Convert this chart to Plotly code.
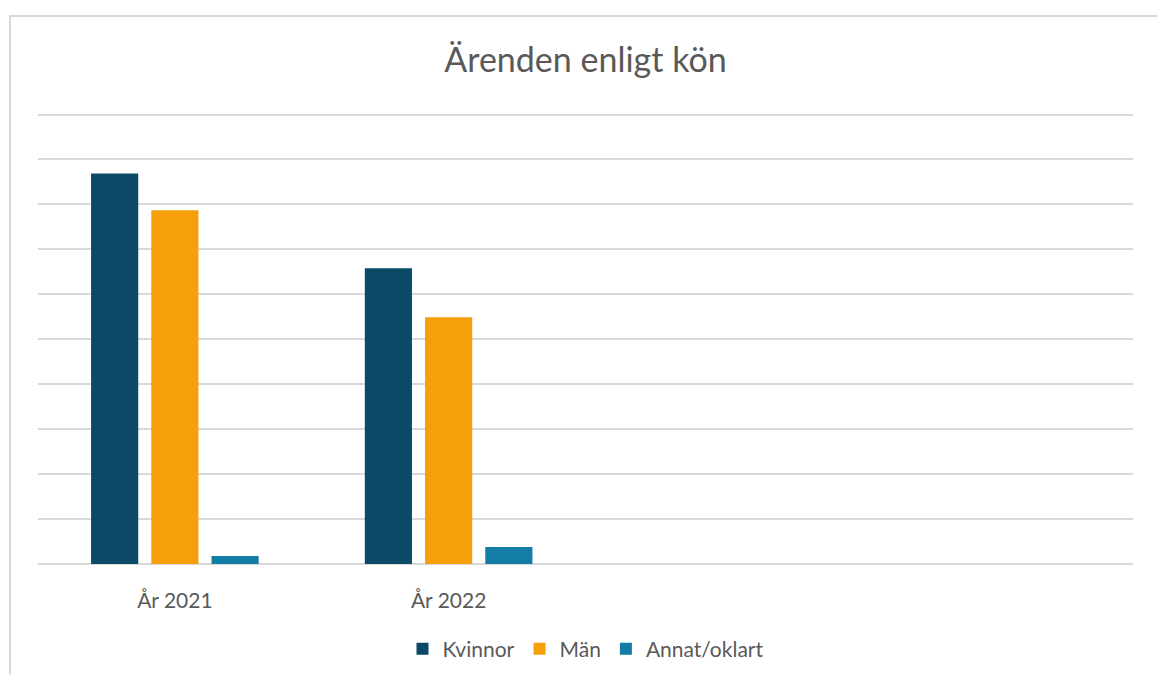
import plotly.graph_objects as go

categories = ["År 2021", "År 2022"]
kvinnor = [8.69, 6.58]
man = [7.87, 5.49]
annat = [0.18, 0.38]

colors = {"Kvinnor": "#0b4a66", "Män": "#f59f0b", "Annat/oklart": "#137da8"}

W, H = 1157, 675
YMAX = 10.1
# plot area: value 0 at y=564 px, value 10 at y=114 px
unit = (564 - 114) / 10
T = int(round(114 - (YMAX - 10) * unit))
L, R, B = 38, 24, 675 - 564
pw, ph = W - L - R, H - T - B

fig = go.Figure()
xs = list(range(len(categories)))
for name, vals in [("Kvinnor", kvinnor), ("Män", man), ("Annat/oklart", annat)]:
    fig.add_trace(go.Bar(x=xs, y=vals, name=name, marker=dict(color=colors[name], line=dict(width=0))))

fig.update_layout(
    width=W, height=H,
    margin=dict(l=L, r=R, t=T, b=B, autoexpand=False),
    paper_bgcolor="white", plot_bgcolor="white",
    barmode="group", bargap=0.34, bargroupgap=0.217,
    font=dict(family="Lato, Open Sans, sans-serif", color="#595959"),
    title=dict(text="Ärenden enligt kön", x=0.5, xanchor="center", xref="paper",
               y=1 - 60 / H, yanchor="middle", font=dict(size=34, color="#595959")),
    xaxis=dict(tickvals=xs, ticktext=categories, range=[-0.5, 3.5], showgrid=False,
               zeroline=False, showline=False, tickfont=dict(size=21, color="#595959"),
               ticks="", ticklabelstandoff=22, automargin=False),
    yaxis=dict(range=[0, YMAX], dtick=1, showticklabels=False, gridcolor="#d9d9d9",
               gridwidth=1.5, zeroline=True, zerolinecolor="#d9d9d9", zerolinewidth=1.5,
               showline=False, ticks="", automargin=False),
    legend=dict(orientation="h", x=0.5, xanchor="center", y=(564 - 649) / ph,
                yanchor="middle", font=dict(size=21, color="#595959"), traceorder="normal",
                itemwidth=30),
    showlegend=True,
)

fig.add_shape(type="rect", xref="paper", yref="paper",
              x0=(10 - L) / pw, x1=(W + 10 - L) / pw,
              y0=-(H + 10 - (T + ph)) / ph, y1=1 + (T - 16) / ph,
              line=dict(color="#d9d9d9", width=2), fillcolor="rgba(0,0,0,0)", layer="below")

fig.write_html("out.html", config={"displayModeBar": False},
               post_script="document.body.style.margin='0';document.body.style.overflow='hidden';")
